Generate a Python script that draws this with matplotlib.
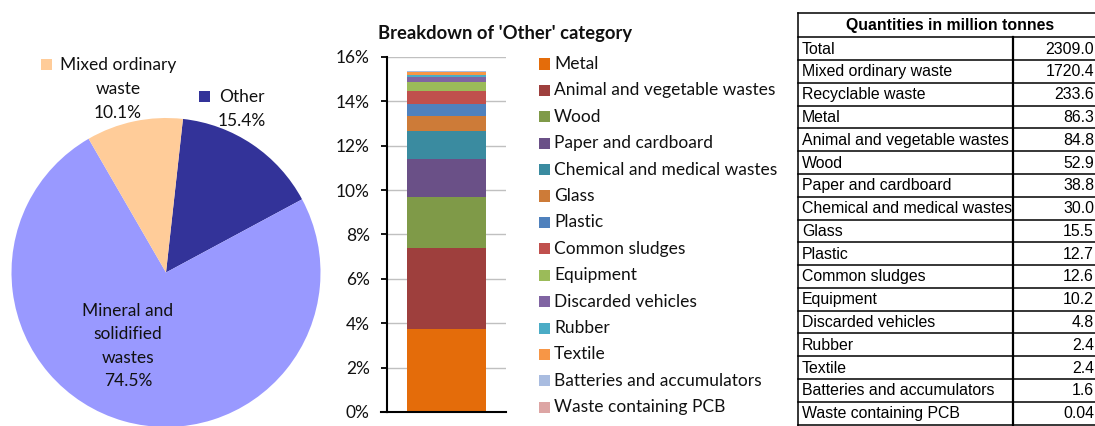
import matplotlib
matplotlib.use("Agg")
import matplotlib.pyplot as plt
from matplotlib.patches import Rectangle
from matplotlib.lines import Line2D

# ---- data -------------------------------------------------------------
pie_labels = ["Other", "Mineral and\nsolidified\nwastes", "Mixed ordinary\nwaste"]
pie_shares = [15.4, 74.5, 10.1]
pie_colors = ["#333399", "#9999FF", "#FFCC99"]

total_mt = 2309.0
other_categories = ["Metal", "Animal and vegetable wastes", "Wood", "Paper and cardboard",
                    "Chemical and medical wastes", "Glass", "Plastic", "Common sludges",
                    "Equipment", "Discarded vehicles", "Rubber", "Textile",
                    "Batteries and accumulators", "Waste containing PCB"]
other_quantities = [86.3, 84.8, 52.9, 38.8, 30.0, 15.5, 12.7, 12.6, 10.2, 4.8, 2.4, 2.4, 1.6, 0.04]
other_colors = ["#E46C0A", "#9E3F3D", "#7F9A48", "#6A5087", "#3A8BA0", "#CD7B38", "#4F81BD",
                "#C0504D", "#9BBB59", "#8064A2", "#4BACC6", "#F79646", "#A9BCE0", "#DDA5A4"]

yticks = [0, 2, 4, 6, 8, 10, 12, 14, 16]

table_title = "Quantities in million tonnes"
table_rows = ["Total", "Mixed ordinary waste", "Recyclable waste"] + other_categories
table_values = ["2309.0", "1720.4", "233.6", "86.3", "84.8", "52.9", "38.8", "30.0", "15.5",
                "12.7", "12.6", "10.2", "4.8", "2.4", "2.4", "1.6", "0.04"]

# ---- figure -----------------------------------------------------------
W, H = 1095, 426
fig = plt.figure(figsize=(W / 100, H / 100), dpi=100)
fig.patch.set_facecolor("white")

def fx(x):
    return x / W

def fy(y):
    return 1 - y / H

BODY = ["Lato", "DejaVu Sans"]
ARIAL = ["Liberation Sans", "DejaVu Sans"]
FS = 12.5
TFS = 11.4

# ---- pie --------------------------------------------------------------
cx, cy, r = 166, 272.5, 154.5
ax_pie = fig.add_axes([fx(cx - r), fy(cy + r), 2 * r / W, 2 * r / H])
ax_pie.pie(pie_shares, colors=pie_colors, startangle=83.7, counterclock=False,
           radius=1, wedgeprops=dict(linewidth=0))
ax_pie.set_xlim(-1, 1)
ax_pie.set_ylim(-1, 1)
ax_pie.set_aspect("auto")
ax_pie.axis("off")

# labels around the pie
def pie_note(lines, x, y0, step):
    for i, t in enumerate(lines):
        fig.text(fx(x), fy(y0 + i * step), t, ha="center", va="center",
                 fontsize=FS, family=BODY, color="#111111")

pie_note(pie_labels[2].split("\n") + [f"{pie_shares[2]:.1f}%"], 118, 65, 23.8)
pie_note(["Other", f"{pie_shares[0]:.1f}%"], 242, 97, 24)
pie_note(pie_labels[1].split("\n") + [f"{pie_shares[1]:.1f}%"], 128, 311, 23.4)
for (sx, sy), col in [((41, 59), pie_colors[2]), ((199, 91), pie_colors[0])]:
    fig.patches.append(Rectangle((fx(sx), fy(sy + 11)), 11 / W, 11 / H,
                                 transform=fig.transFigure, facecolor=col, edgecolor="none"))

# ---- stacked bar of the 'Other' category --------------------------------
ax = fig.add_axes([fx(387), fy(412), (506 - 387) / W, (412 - 57) / H])
bottom = 0.0
bars = []
for name, q, col in zip(other_categories, other_quantities, other_colors):
    pct = q / total_mt * 100
    b = ax.bar(0, pct, bottom=bottom, width=0.664, color=col, linewidth=0, label=name)
    bars.append(b)
    bottom += pct
ax.set_xlim(-0.5, 0.5)
ax.set_ylim(0, 16)
ax.set_yticks(yticks)
ax.set_yticklabels([f"{v}%" for v in yticks], fontsize=FS, family=BODY, color="#111111")
ax.set_xticks([])
ax.tick_params(axis="y", direction="out", length=4.5, width=1.3, pad=8)
ax.yaxis.grid(True, color="#C0C0C0", linewidth=1.0)
ax.set_axisbelow(True)
for s in ["top", "right"]:
    ax.spines[s].set_visible(False)
ax.spines["left"].set_linewidth(1.5)
ax.spines["bottom"].set_linewidth(1.5)
ax.add_line(Line2D([-0.05, 0], [0, 0], transform=ax.get_yaxis_transform(),
                   color="black", linewidth=1.5, clip_on=False))

fig.text(fx(505), fy(33), "Breakdown of 'Other' category", ha="center", va="center",
         fontsize=13.2, fontweight="bold", family=BODY, color="#111111")

# legend, drawn row by row
for i, (name, b) in enumerate(zip(other_categories, bars)):
    yc = 64 + i * 26.4
    fig.patches.append(Rectangle((fx(539), fy(yc + 5.5)), 11 / W, 11 / H,
                                 transform=fig.transFigure,
                                 facecolor=b.patches[0].get_facecolor(), edgecolor="none"))
    fig.text(fx(554), fy(yc), name, ha="left", va="center",
             fontsize=FS, family=BODY, color="#111111")

# ---- quantities table -------------------------------------------------
top, head_bot, row_h = 13.3, 37.3, 22.78
left, divider, right = 798, 1012.7, 1102
lw = 1.1
fig.add_artist(Line2D([fx(left), fx(right)], [fy(top), fy(top)], color="black", lw=lw))
fig.add_artist(Line2D([fx(left), fx(left)], [fy(top), fy(H + 5)], color="black", lw=lw))
fig.add_artist(Line2D([fx(divider), fx(divider)], [fy(head_bot), fy(H + 5)],
                      color="black", lw=1.6))
fig.text(fx((left + right) / 2), fy((top + head_bot) / 2 + 0.5), table_title,
         ha="center", va="center", fontsize=TFS, fontweight="bold", family=ARIAL)
for k in range(len(table_rows) + 1):
    yl = head_bot + k * row_h
    if yl < H:
        fig.add_artist(Line2D([fx(left), fx(right)], [fy(yl), fy(yl)], color="black", lw=lw))
for k, (name, val) in enumerate(zip(table_rows, table_values)):
    yc = head_bot + (k + 0.5) * row_h + 0.5
    fig.text(fx(802), fy(yc), name, ha="left", va="center", fontsize=TFS, family=ARIAL)
    fig.text(fx(1094), fy(yc), val, ha="right", va="center", fontsize=TFS, family=ARIAL)

fig.savefig("out.png", dpi=100)
